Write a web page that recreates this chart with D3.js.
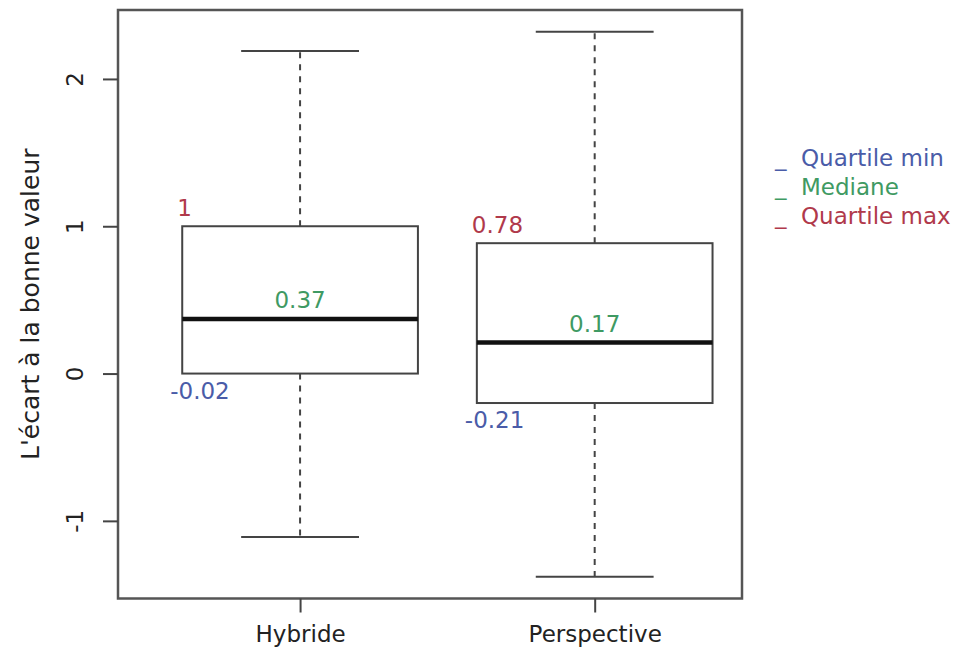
<!DOCTYPE html>
<html>
<head>
<meta charset="utf-8">
<script src="https://cdn.jsdelivr.net/npm/d3@7"></script>
<style>
  html, body { margin: 0; padding: 0; background: #fff; }
  svg { display: block; font-family: "DejaVu Sans", Verdana, sans-serif; }
</style>
</head>
<body>
<svg id="chart" width="956" height="652"></svg>
<script>
// ---- data ----
const categories   = ["Hybride", "Perspective"];
const whiskerLow   = [-1.11, -1.38];
const quartileMin  = [0.0, -0.20];
const medianVals   = [0.37, 0.21];
const quartileMax  = [1.0, 0.885];
const whiskerHigh  = [2.19, 2.32];
const minLabels    = ["-0.02", "-0.21"];
const medLabels    = ["0.37", "0.17"];
const maxLabels    = ["1", "0.78"];
const yTicks       = [-1, 0, 1, 2];
const legendLabels = ["Quartile min", "Mediane", "Quartile max"];
const legendColors = ["#4a5ca8", "#3f9a63", "#b0394b"];

const svg = d3.select("#chart");
const fontSize = 23;

const x = d3.scaleLinear().domain([0.382, 2.5]).range([118, 742]);
const y = d3.scaleLinear().domain([-1.527, 2.468]).range([598.5, 10]);

const boxHalf = 0.4, capHalf = 0.2;
const data = categories.map((c, i) => ({
  cat: c, pos: i + 1,
  lo: whiskerLow[i], q1: quartileMin[i], med: medianVals[i], q3: quartileMax[i], hi: whiskerHigh[i],
  minL: minLabels[i], medL: medLabels[i], maxL: maxLabels[i]
}));

const g = svg.append("g");

// whiskers (dashed)
g.selectAll(".wl").data(data).join("line")
  .attr("x1", d => x(d.pos)).attr("x2", d => x(d.pos))
  .attr("y1", d => y(d.q3)).attr("y2", d => y(d.hi))
  .attr("stroke", "#444").attr("stroke-width", 2).attr("stroke-dasharray", "6,6");
g.selectAll(".wl2").data(data).join("line")
  .attr("x1", d => x(d.pos)).attr("x2", d => x(d.pos))
  .attr("y1", d => y(d.q1)).attr("y2", d => y(d.lo))
  .attr("stroke", "#444").attr("stroke-width", 2).attr("stroke-dasharray", "6,6");

// caps
g.selectAll(".capH").data(data).join("line")
  .attr("x1", d => x(d.pos - capHalf)).attr("x2", d => x(d.pos + capHalf))
  .attr("y1", d => y(d.hi)).attr("y2", d => y(d.hi))
  .attr("stroke", "#444").attr("stroke-width", 2);
g.selectAll(".capL").data(data).join("line")
  .attr("x1", d => x(d.pos - capHalf)).attr("x2", d => x(d.pos + capHalf))
  .attr("y1", d => y(d.lo)).attr("y2", d => y(d.lo))
  .attr("stroke", "#444").attr("stroke-width", 2);

// boxes
g.selectAll(".box").data(data).join("rect")
  .attr("x", d => x(d.pos - boxHalf))
  .attr("width", d => x(d.pos + boxHalf) - x(d.pos - boxHalf))
  .attr("y", d => y(d.q3))
  .attr("height", d => y(d.q1) - y(d.q3))
  .attr("fill", "#fff").attr("stroke", "#444").attr("stroke-width", 2);

// medians
g.selectAll(".med").data(data).join("line")
  .attr("x1", d => x(d.pos - boxHalf)).attr("x2", d => x(d.pos + boxHalf))
  .attr("y1", d => y(d.med)).attr("y2", d => y(d.med))
  .attr("stroke", "#111").attr("stroke-width", 4.5);

// value labels
g.selectAll(".lmax").data(data).join("text")
  .attr("x", d => x(d.pos - boxHalf) - 5).attr("y", d => y(d.q3) - 10)
  .attr("font-size", fontSize).attr("fill", legendColors[2]).text(d => d.maxL);
g.selectAll(".lmed").data(data).join("text")
  .attr("x", d => x(d.pos)).attr("y", d => y(d.med) - 11)
  .attr("text-anchor", "middle")
  .attr("font-size", fontSize).attr("fill", legendColors[1]).text(d => d.medL);
g.selectAll(".lmin").data(data).join("text")
  .attr("x", d => x(d.pos - boxHalf) - 12).attr("y", d => y(d.q1) + 25)
  .attr("font-size", fontSize).attr("fill", legendColors[0]).text(d => d.minL);

// plot frame
svg.append("rect")
  .attr("x", x.range()[0]).attr("y", y.range()[1])
  .attr("width", x.range()[1] - x.range()[0])
  .attr("height", y.range()[0] - y.range()[1])
  .attr("fill", "none").attr("stroke", "#555").attr("stroke-width", 2.5);

// y axis
const yAxis = svg.append("g").attr("transform", `translate(${x.range()[0]},0)`)
  .call(d3.axisLeft(y).tickValues(yTicks).tickSize(15).tickFormat(d => String(d)));
yAxis.select(".domain").remove();
yAxis.selectAll(".tick line").attr("stroke", "#444").attr("stroke-width", 2);
yAxis.selectAll(".tick text")
  .attr("transform", "rotate(-90)")
  .attr("x", 0).attr("y", -35).attr("dy", 0)
  .attr("text-anchor", "middle")
  .attr("font-size", fontSize).attr("font-family", "DejaVu Sans").attr("fill", "#222");

// x axis
const xAxis = svg.append("g").attr("transform", `translate(0,${y.range()[0]})`)
  .call(d3.axisBottom(x).tickValues(data.map(d => d.pos)).tickSize(14)
    .tickFormat(p => categories[p - 1]));
xAxis.select(".domain").remove();
xAxis.selectAll(".tick line").attr("stroke", "#444").attr("stroke-width", 2);
xAxis.selectAll(".tick text")
  .attr("y", 43).attr("dy", 0)
  .attr("font-size", fontSize).attr("font-family", "DejaVu Sans").attr("fill", "#222");

// y title
svg.append("text")
  .attr("transform", `translate(39,${(y.range()[0] + y.range()[1]) / 2}) rotate(-90)`)
  .attr("text-anchor", "middle")
  .attr("font-size", 25).attr("fill", "#222")
  .text("L'écart à la bonne valeur");

// legend
const leg = svg.append("g");
legendLabels.forEach((lab, i) => {
  const yy = 166 + i * 29;
  leg.append("text").attr("x", 775).attr("y", yy)
    .attr("font-size", 23).attr("fill", legendColors[i]).text("_");
  leg.append("text").attr("x", 801).attr("y", yy)
    .attr("font-size", 23).attr("fill", legendColors[i]).text(lab);
});
</script>
</body>
</html>
